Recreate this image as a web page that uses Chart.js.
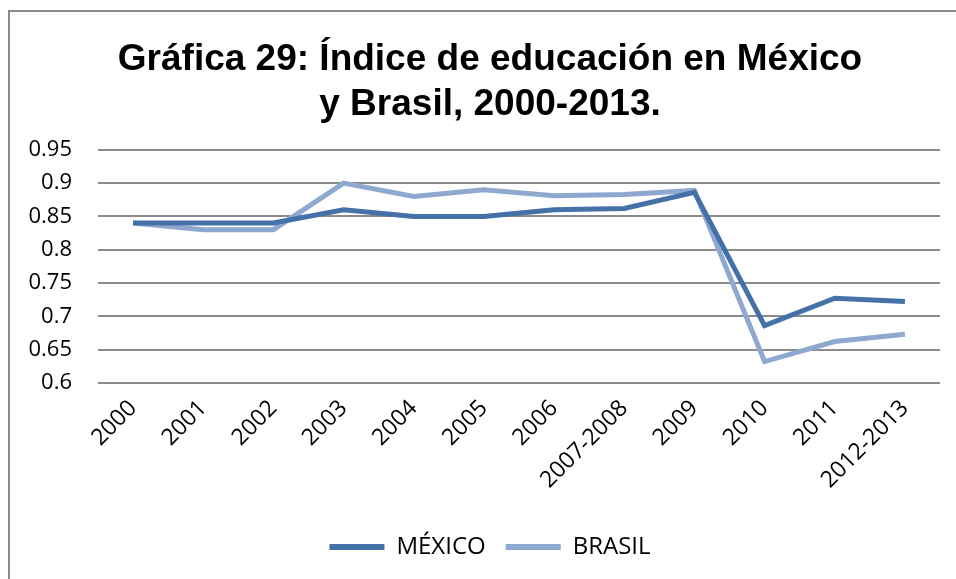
<!DOCTYPE html>
<html>
<head>
<meta charset="utf-8">
<script src="https://cdn.jsdelivr.net/npm/chart.js@4"></script>
<style>
  html, body { margin: 0; padding: 0; background: #fff; overflow: hidden; }
  #frame {
    position: absolute; left: 8px; top: 10px;
    width: 980px; height: 600px;
    border-left: 2px solid #8a8a8a; border-top: 2px solid #8a8a8a;
  }
  #wrap { position: absolute; left: 0; top: 0; width: 960px; height: 567px; }
</style>
</head>
<body>
<div id="frame"><div id="wrap"><canvas id="chart"></canvas></div></div>
<script>
var years = ['2000', '2001', '2002', '2003', '2004', '2005', '2006', '2007-2008', '2009', '2010', '2011', '2012-2013'];
var mexico = [0.84, 0.84, 0.84, 0.86, 0.85, 0.85, 0.86, 0.862, 0.886, 0.686, 0.727, 0.722];
var brasil = [0.84, 0.83, 0.83, 0.90, 0.88, 0.89, 0.881, 0.883, 0.889, 0.632, 0.662, 0.673];
var yTicks = [0.6, 0.65, 0.7, 0.75, 0.8, 0.85, 0.9, 0.95];

var ctx = document.getElementById('chart').getContext('2d');
var chart = new Chart(ctx, {
    type: 'line',
    data: {
        labels: years,
        datasets: [{
            label: 'MÉXICO',
            borderColor: '#4471a8',
            backgroundColor: '#4471a8',
            borderWidth: 5,
            pointRadius: 0,
            data: mexico
        }, {
            label: 'BRASIL',
            borderColor: '#8fa8cf',
            backgroundColor: '#8fa8cf',
            borderWidth: 5,
            pointRadius: 0,
            data: brasil
        }]
    },
    options: {
        responsive: true,
        maintainAspectRatio: false,
        animation: false,
        layout: { padding: { left: 14, right: 14, top: 12, bottom: 10 } },
        plugins: {
            title: {
                display: true,
                text: ['Gráfica 29: Índice de educación en México', 'y Brasil, 2000-2013.'],
                color: '#000',
                font: { family: 'Liberation Sans', size: 37, weight: 'bold' },
                padding: { top: 14, bottom: 23 },
                lineHeight: 1.13
            },
            legend: {
                position: 'bottom',
                labels: {
                    color: '#000',
                    font: { family: 'Open Sans', size: 24 },
                    boxWidth: 55,
                    boxHeight: 6,
                    padding: 20,
                    generateLabels: function (c) {
                        return c.data.datasets.map(function (ds, i) {
                            return { text: ds.label, fillStyle: ds.borderColor, strokeStyle: ds.borderColor, lineWidth: 0, datasetIndex: i };
                        });
                    }
                }
            },
            tooltip: { enabled: false }
        },
        scales: {
            x: {
                offset: true,
                grid: { display: false },
                border: { display: false },
                afterFit: function (scale) {
                    scale.paddingLeft = 0;
                    scale.paddingRight = 30;
                    scale.height += 17;
                },
                ticks: {
                    color: '#000',
                    font: { family: 'Open Sans', size: 23 },
                    minRotation: 45,
                    maxRotation: 45,
                    padding: 4
                }
            },
            y: {
                min: 0.6,
                max: 0.95,
                afterBuildTicks: function (axis) {
                    axis.ticks = yTicks.map(function (v) { return { value: v }; });
                },
                afterFit: function (scale) { scale.width = 74; },
                grid: { color: '#8c8c8c', lineWidth: 2, drawTicks: false },
                border: { display: false },
                ticks: {
                    color: '#000',
                    font: { family: 'Open Sans', size: 22 },
                    padding: 26,
                    callback: function (v) { return String(parseFloat(Number(v).toFixed(2))); }
                }
            }
        }
    }
});
</script>
</body>
</html>
